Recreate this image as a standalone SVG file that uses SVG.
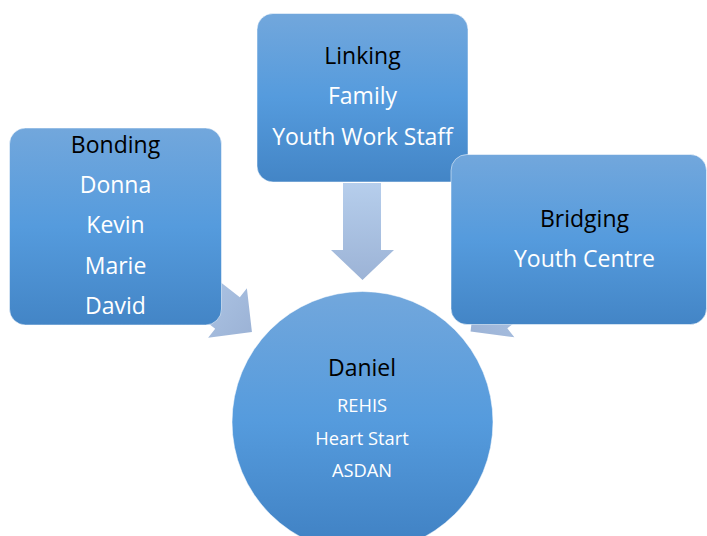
<svg xmlns="http://www.w3.org/2000/svg" width="707" height="536" viewBox="0 0 707 536">
  <defs>
    <linearGradient id="nodeGrad" x1="0" y1="0" x2="0" y2="1">
      <stop offset="0" stop-color="#72a7dc"/>
      <stop offset="0.5" stop-color="#559bdd"/>
      <stop offset="1" stop-color="#4385c6"/>
    </linearGradient>
    <linearGradient id="circGrad" x1="0" y1="0" x2="0" y2="1">
      <stop offset="0" stop-color="#72a7dc"/>
      <stop offset="0.5" stop-color="#559bdd"/>
      <stop offset="1" stop-color="#3f80c2"/>
    </linearGradient>
    <linearGradient id="arrowGradV" x1="0" y1="0" x2="0" y2="1">
      <stop offset="0" stop-color="#b6ceec"/>
      <stop offset="1" stop-color="#9cb3d6"/>
    </linearGradient>
    <linearGradient id="arrowGradH" x1="0" y1="0" x2="1" y2="0">
      <stop offset="0" stop-color="#b6ceec"/>
      <stop offset="1" stop-color="#9cb3d6"/>
    </linearGradient>
  </defs>
  <style>
    .box { fill: url(#nodeGrad); stroke: #ffffff; stroke-opacity: 0.5; stroke-width: 1; }
    .circ { fill: url(#circGrad); stroke: #ffffff; stroke-opacity: 0.5; stroke-width: 1; }
    .head { font-family: "Open Sans", "Liberation Sans", sans-serif; font-size: 23px; fill: #000000; text-anchor: middle; }
    .item { font-family: "Open Sans", "Liberation Sans", sans-serif; font-size: 23px; fill: #ffffff; text-anchor: middle; }
    .small { font-family: "Open Sans", "Liberation Sans", sans-serif; font-size: 18.3px; fill: #ffffff; text-anchor: middle; }
  </style>

  <g id="connectors">
    <path d="M343,183 L381,183 L381,250 L394,250 L362.5,280 L331,250 L343,250 Z" fill="url(#arrowGradV)"/>
    <path transform="translate(227.5,313) rotate(38)" d="M-80,-20 L0,-20 L0,-31.5 L31,0 L0,31.5 L0,20 L-80,20 Z" fill="url(#arrowGradH)"/>
    <path transform="translate(495,312.5) rotate(142)" d="M-80,-20 L0,-20 L0,-31.5 L31,0 L0,31.5 L0,20 L-80,20 Z" fill="url(#arrowGradH)"/>
  </g>

  <g id="bonding">
    <rect class="box" x="9.5" y="128" width="212" height="197" rx="16"/>
    <text class="head" x="115.5" y="152.5">Bonding</text>
    <text class="item" x="115.5" y="193">Donna</text>
    <text class="item" x="115.5" y="233">Kevin</text>
    <text class="item" x="115.5" y="273.5">Marie</text>
    <text class="item" x="115.5" y="313.5">David</text>
  </g>

  <g id="linking">
    <rect class="box" x="257" y="13.5" width="211" height="168.5" rx="16"/>
    <text class="head" x="362.5" y="64">Linking</text>
    <text class="item" x="362.5" y="104">Family</text>
    <text class="item" x="362.5" y="145">Youth Work Staff</text>
  </g>

  <g id="bridging">
    <rect class="box" x="451" y="154.5" width="255.5" height="170" rx="16"/>
    <text class="head" x="584.5" y="227">Bridging</text>
    <text class="item" x="584.5" y="267">Youth Centre</text>
  </g>

  <g id="daniel">
    <circle class="circ" cx="362.5" cy="422" r="130.5"/>
    <text class="head" x="362" y="375.5">Daniel</text>
    <text class="small" x="362" y="412">REHIS</text>
    <text class="small" x="362" y="445">Heart Start</text>
    <text class="small" x="362" y="477">ASDAN</text>
  </g>
</svg>
